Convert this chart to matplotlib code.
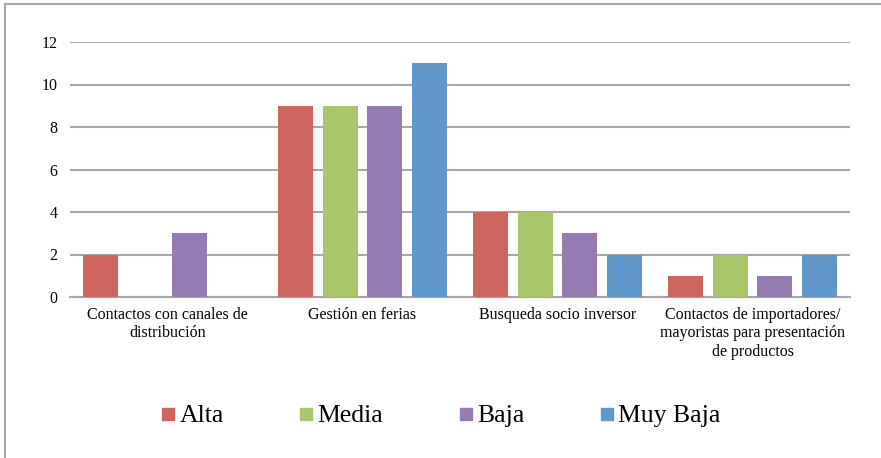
import matplotlib.pyplot as plt
import numpy as np
from matplotlib.lines import Line2D

# categories and values per priority level
categorias = ["Contactos con canales de\ndistribución",
              "Gestión en ferias",
              "Busqueda socio inversor",
              "Contactos de importadores/\nmayoristas para presentación\nde productos"]
series = ["Alta", "Media", "Baja", "Muy Baja"]
alta = [2, 9, 4, 1]
media = [0, 9, 4, 2]
baja = [3, 9, 3, 1]
muy_baja = [0, 11, 2, 2]
colores = ["#CF665E", "#AAC66B", "#957BB1", "#5F97CA"]

plt.rcParams['font.family'] = ['Liberation Serif', 'DejaVu Serif']

fig = plt.figure(figsize=(8.81, 4.58), dpi=100)
ax = fig.add_axes([70/881, 1-297/458, 780/881, 255/458])

x = np.arange(len(categorias))
ancho = 0.18
paso = 0.228
valores = [alta, media, baja, muy_baja]
for i, (nombre, vals, c) in enumerate(zip(series, valores, colores)):
    ax.bar(x + (i - 1.5)*paso, vals, ancho, color=c, label=nombre, zorder=3)

ax.set_xlim(-0.5, len(categorias) - 0.5)
ax.set_ylim(0, 12)
ax.set_yticks(range(0, 13, 2))
ax.yaxis.grid(True, color="#A6A6A6", linewidth=1.5, zorder=0)
ax.set_xticks(x)
ax.set_xticklabels(categorias, fontsize=11.5, linespacing=1.2)
ax.tick_params(axis='both', length=0, labelsize=11.5)
ax.tick_params(axis='x', pad=7)
ax.tick_params(axis='y', pad=9)
for s in ['top', 'right', 'left']:
    ax.spines[s].set_visible(False)
ax.spines['bottom'].set_color("#A6A6A6")
ax.spines['bottom'].set_linewidth(1.5)

# legend
handles = [Line2D([], [], marker='s', linestyle='', markersize=9, color=c) for c in colores]
fig.legend(handles, series, loc='center', bbox_to_anchor=(441/881, 1-416/458),
           ncol=4, frameon=False, fontsize=18.5, handlelength=0.5, handletextpad=0.2,
           columnspacing=2.95)

# outer frame (left and top edges visible)
fig.add_artist(Line2D([5/881, 5/881], [0, 1-4/458], color="#A6A6A6", linewidth=1.5,
                      transform=fig.transFigure))
fig.add_artist(Line2D([5/881, 1], [1-4/458, 1-4/458], color="#A6A6A6", linewidth=1.5,
                      transform=fig.transFigure))

fig.savefig("out.png", dpi=100)
